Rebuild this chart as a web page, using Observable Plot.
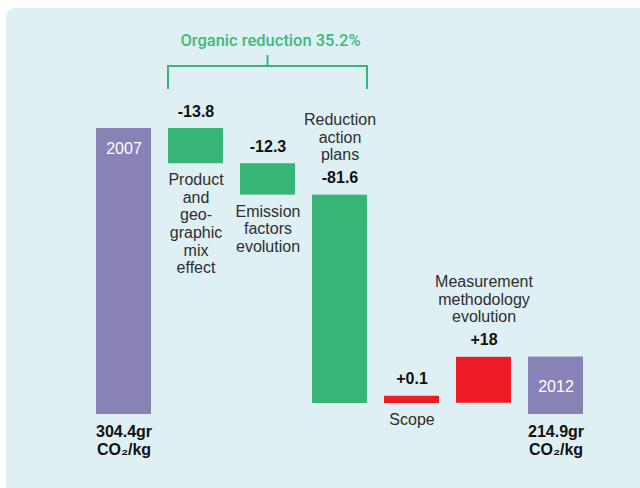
<!DOCTYPE html>
<html><head><meta charset="utf-8">
<script src="https://cdn.jsdelivr.net/npm/d3@7"></script>
<script src="https://cdn.jsdelivr.net/npm/@observablehq/plot@0.6"></script>
<style>
body{margin:0;background:#fff;}
#wrap{position:relative;width:640px;height:488px;overflow:hidden;}
#panel{position:absolute;left:6px;top:8px;width:660px;height:500px;background:#dff0f5;border-radius:9px;}
#chart{position:absolute;left:0;top:0;}
#chart text.desc{letter-spacing:-0.4px;}
</style></head><body>
<div id="wrap"><div id="panel"></div><div id="chart"></div></div>
<script>
// ---- data ----
const categories = ["2007", "Product", "Emission", "Reduction", "Scope", "Measurement", "2012"];
const startValue = 304.4;
const endValue = 214.9;
const deltas = [-13.8, -12.3, -81.6, 0.1, 18];
const valueLabels = ["304.4gr\nCO₂/kg", "-13.8", "-12.3", "-81.6", "+0.1", "+18", "214.9gr\nCO₂/kg"];
const descAbove = ["", "", "", "Reduction\naction\nplans", "", "Measurement\nmethodology\nevolution", ""];
const descBelow = ["", "Product\nand\ngeo-\ngraphic\nmix\neffect", "Emission\nfactors\nevolution", "", "Scope", "", ""];
const kinds = ["total", "down", "down", "down", "up", "up", "total"];
const bracketText = "Organic reduction 35.2%";
const bracketFrom = "Product", bracketTo = "Reduction";

// broken-axis floor of the chart
const yFloor = 192.4;

const GREEN = "#38b677", RED = "#ed1c24", PURPLE = "#8882b6";

// build waterfall table
const rows = [];
rows.push({cat: categories[0], y1: yFloor, y2: startValue, kind: kinds[0], value: valueLabels[0], above: descAbove[0], below: descBelow[0]});
let run = startValue;
deltas.forEach((d, i) => {
  const k = i + 1;
  const next = +(run + d).toFixed(1);
  rows.push({cat: categories[k], y1: run, y2: next, kind: kinds[k], value: valueLabels[k], above: descAbove[k], below: descBelow[k], small: Math.abs(d) < 1});
  run = next;
});
rows.push({cat: categories[6], y1: yFloor, y2: endValue, kind: kinds[6], value: valueLabels[6], above: descAbove[6], below: descBelow[6]});
rows.forEach(r => { r.top = Math.max(r.y1, r.y2); r.bottom = Math.min(r.y1, r.y2); });

const totals = rows.filter(r => r.kind === "total");
const steps = rows.filter(r => r.kind !== "total");

function bracket(index, scales) {
  const x = scales.x;
  const bw = typeof x.bandwidth === "function" ? x.bandwidth() : x.bandwidth;
  const x1 = x(bracketFrom), x2 = x(bracketTo) + bw;
  const xm = (x1 + x2) / 2;
  const g = d3.create("svg:g");
  g.append("path")
    .attr("d", `M${x1},89V66H${x2}V89M${xm},66V55`)
    .attr("fill", "none").attr("stroke", GREEN).attr("stroke-width", 2);
  g.append("text")
    .attr("x", xm + 3).attr("y", 46)
    .attr("text-anchor", "middle")
    .attr("fill", "#3dba7a")
    .attr("font-family", "Roboto, 'Liberation Sans', sans-serif")
    .attr("font-size", 16.5).attr("font-weight", 500)
    .text(bracketText);
  return g.node();
}

const chart = Plot.plot({
  width: 640,
  height: 488,
  margin: 0,
  style: {background: "transparent", fontFamily: "'Liberation Sans', Arial, sans-serif", fontSize: "16px"},
  x: {type: "band", domain: categories, range: [87.5, 591.5], paddingInner: 0.236, paddingOuter: 0.118, axis: null},
  y: {domain: [yFloor, startValue], range: [414, 128], axis: null},
  color: {domain: ["total", "down", "up"], range: [PURPLE, GREEN, RED]},
  marks: [
    Plot.rectY(rows.filter(r => !r.small), {x: "cat", y1: "y1", y2: "y2", fill: "kind"}),
    Plot.rectY(rows.filter(r => r.small), {x: "cat", y1: "y1", y2: "y2", fill: "kind", insetTop: -7}),
    // year labels inside totals
    Plot.text(totals.slice(0, 1), {x: "cat", y: "top", text: "cat", dy: 20, fill: "white", fontSize: 16}),
    Plot.text(totals.slice(1), {x: "cat", y: d => (d.y1 + d.y2) / 2, text: "cat", dy: 1, fill: "white", fontSize: 16}),
    // total values below bars
    Plot.text(totals, {x: "cat", y: "y1", text: "value", lineAnchor: "top", dy: 9, lineHeight: 1.15, fontWeight: "bold", fontSize: 16, fill: "#111"}),
    // step values above bars
    Plot.text(steps.filter(r => !r.small), {x: "cat", y: "top", text: "value", dy: -17, fontWeight: "bold", fontSize: 16, fill: "#111"}),
    Plot.text(steps.filter(r => r.small), {x: "cat", y: "top", text: "value", dy: -24, fontWeight: "bold", fontSize: 16, fill: "#111"}),
    // descriptions
    Plot.text(steps.filter(r => r.above), {x: "cat", y: "top", text: "above", lineAnchor: "bottom", dy: -35, lineHeight: 1.1, fontSize: 16, fill: "#2e2e2e", className: "desc"}),
    Plot.text(steps.filter(r => r.below && !r.small), {x: "cat", y: "bottom", text: "below", lineAnchor: "top", dy: 9, lineHeight: 1.1, fontSize: 16, fill: "#2e2e2e", className: "desc"}),
    Plot.text(steps.filter(r => r.below && r.small), {x: "cat", y: "bottom", text: "below", lineAnchor: "top", dy: 9, lineHeight: 1.1, fontSize: 16, fill: "#2e2e2e", className: "desc"}),
    bracket
  ]
});
document.getElementById("chart").appendChild(chart);
</script>
</body></html>
